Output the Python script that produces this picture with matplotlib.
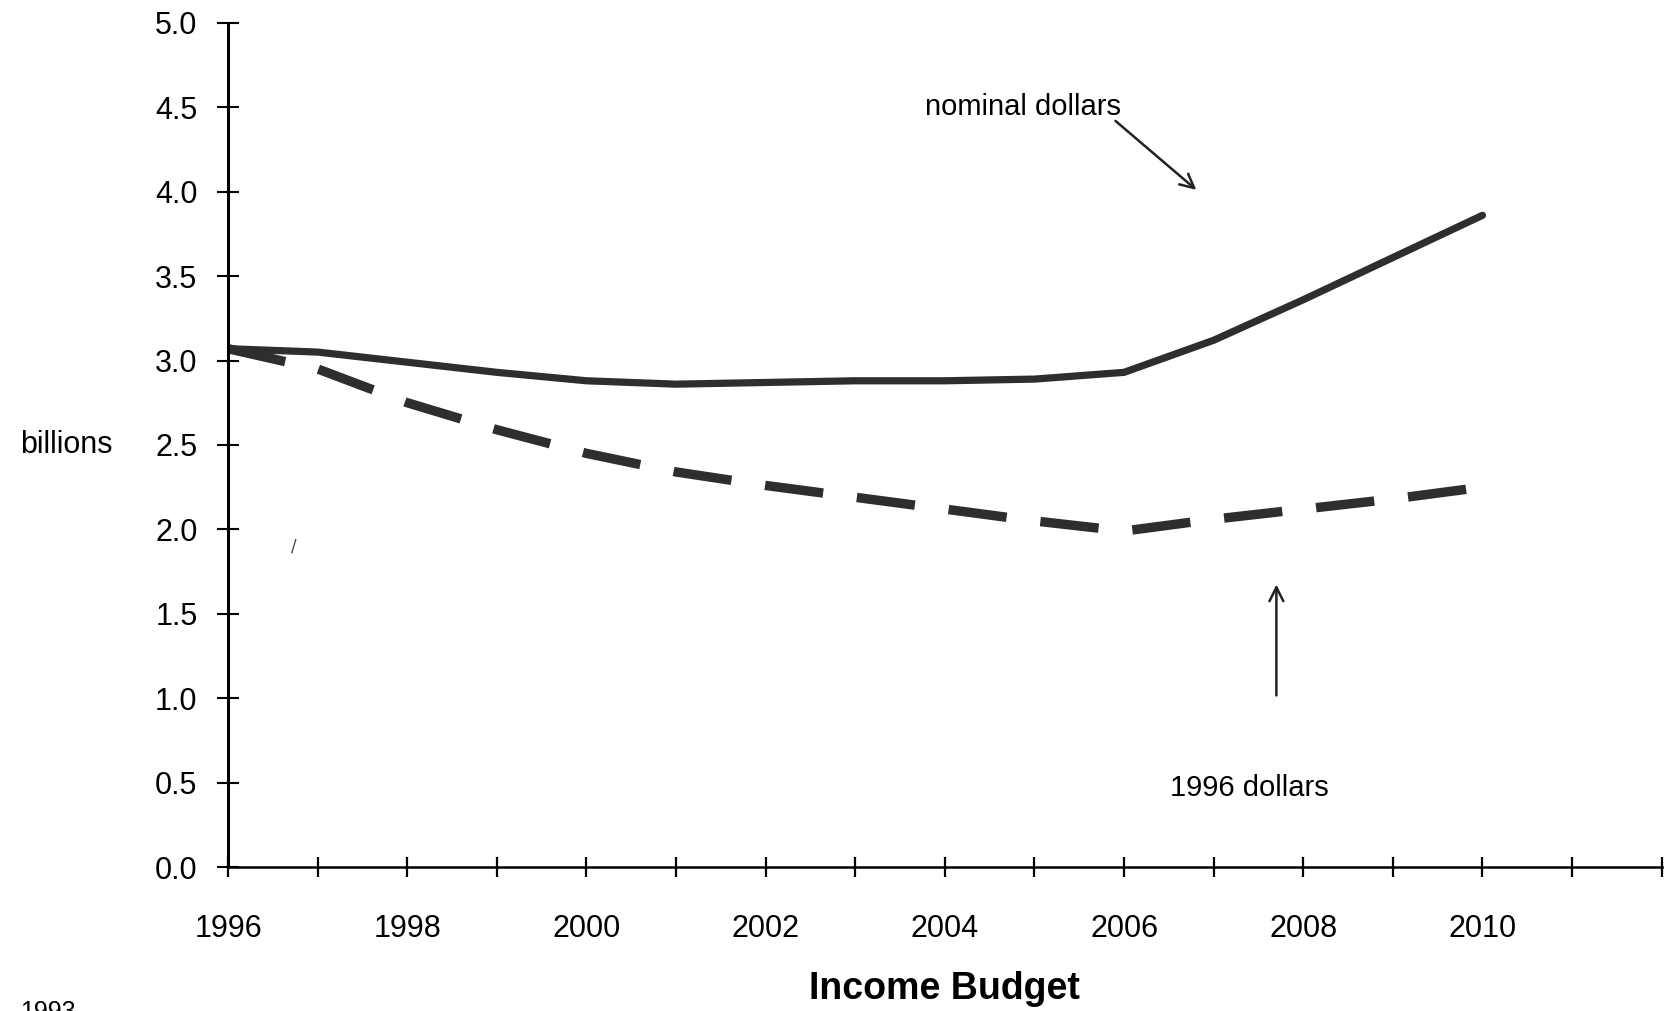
import matplotlib.pyplot as plt

years = list(range(1996, 2011))
nominal = [3.07, 3.05, 2.99, 2.93, 2.88, 2.86, 2.87, 2.88, 2.88, 2.89, 2.93, 3.12, 3.36, 3.61, 3.86]
real_1996 = [3.07, 2.95, 2.75, 2.59, 2.45, 2.34, 2.26, 2.19, 2.12, 2.05, 1.99, 2.06, 2.12, 2.18, 2.25]

x_ticks = list(range(1996, 2013))
x_labels = [str(y) if y % 2 == 0 and y <= 2010 else '' for y in x_ticks]
y_ticks = [0.0, 0.5, 1.0, 1.5, 2.0, 2.5, 3.0, 3.5, 4.0, 4.5, 5.0]

narrow = ['Liberation Sans Narrow', 'Liberation Sans', 'DejaVu Sans']

fig = plt.figure(figsize=(16.65, 10.11), dpi=100)
ax = fig.add_axes([0.137, 0.1424, 0.861, 0.835])

line_color = '#2e2e2e'
ax.plot(years, nominal, color=line_color, linewidth=5.2, solid_capstyle='round')
ax.plot(years, real_1996, color=line_color, linewidth=6.8, dashes=(6.2, 3.6), dash_capstyle='butt')

ax.set_xlim(1996, 2012)
ax.set_ylim(0, 5)

for side in ['top', 'right']:
    ax.spines[side].set_visible(False)
ax.spines['left'].set_linewidth(2.2)
ax.spines['bottom'].set_linewidth(1.8)

ax.set_yticks(y_ticks)
ax.set_yticklabels(['%.1f' % v for v in y_ticks], fontsize=22, family='Liberation Sans')
ax.tick_params(axis='y', direction='inout', length=16, width=1.5, pad=14)

ax.set_xticks(x_ticks)
ax.set_xticklabels(x_labels, fontsize=22, family=narrow)
ax.tick_params(axis='x', direction='inout', length=15, width=1.6, pad=26)

ax.set_xlabel('Income Budget', fontsize=27, fontweight='bold', family=narrow, labelpad=20)

ax.text(-0.113, 2.5, 'billions', transform=ax.get_yaxis_transform(), fontsize=22,
        family=narrow, ha='center', va='center')

# annotations
ax.annotate('', xy=(2006.83, 4.0), xytext=(2005.88, 4.43),
            arrowprops=dict(arrowstyle='->,head_length=1.0,head_width=0.5', color='#222222', lw=1.8))
ax.text(2004.87, 4.5, 'nominal dollars', fontsize=21, family=narrow, ha='center', va='center')

ax.annotate('', xy=(2007.70, 1.69), xytext=(2007.70, 1.0),
            arrowprops=dict(arrowstyle='->,head_length=1.0,head_width=0.5', color='#222222', lw=1.8))
ax.text(2007.4, 0.47, '1996 dollars', fontsize=21, family=narrow, ha='center', va='center')

ax.text(1996.73, 1.9, '/', fontsize=12, color='#444444', ha='center', va='center')
fig.text(0.012, 0.011, '1993', fontsize=18, family=narrow, ha='left', va='top')

fig.savefig('out.png', dpi=100, facecolor='white')
